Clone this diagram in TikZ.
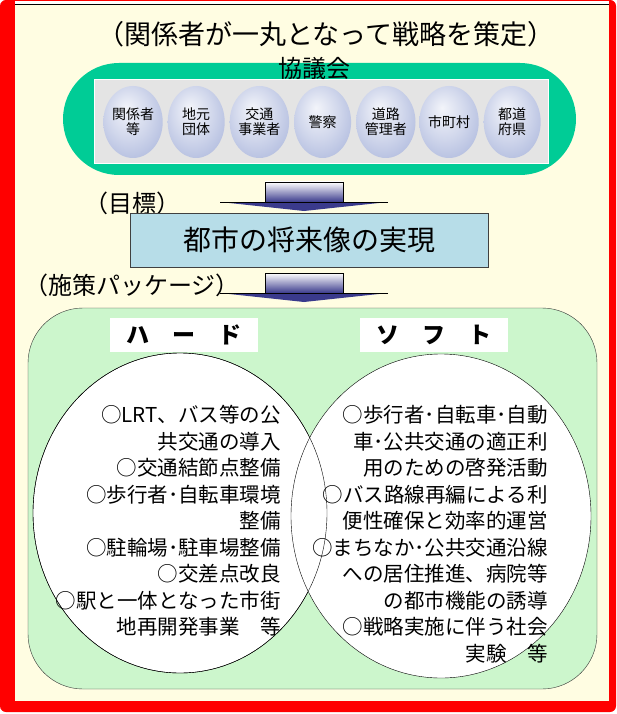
\documentclass[tikz,border=0pt]{standalone}
\usepackage{fontspec}
\setmainfont{Noto Sans CJK JP}
\usetikzlibrary{shapes.geometric, positioning}
\definecolor{framered}{RGB}{255,0,0}
\definecolor{cream}{RGB}{255,253,226}
\definecolor{councilgreen}{RGB}{0,204,150}
\definecolor{panelgrey}{RGB}{228,228,228}
\definecolor{memberblue}{RGB}{152,166,212}
\definecolor{goalblue}{RGB}{183,221,232}
\definecolor{pkggreen}{RGB}{204,246,204}
\definecolor{arrowblue}{RGB}{58,58,140}
\pgfdeclareradialshading{memberball}{\pgfpoint{-6bp}{10bp}}{
    color(0bp)=(memberblue!12); color(18bp)=(memberblue!45);
    color(40bp)=(memberblue!90); color(50bp)=(memberblue)}
\tikzset{
    member/.style={ellipse, minimum width=57pt, minimum height=72pt, inner sep=0pt,
        shading=memberball, align=center, font=\fontsize{14}{15}\selectfont},
    caption/.style={font=\fontsize{24}{24}\selectfont},
    sidetitle/.style={fill=white, minimum width=148pt, minimum height=34pt,
        font=\bfseries\fontsize{23}{23}\selectfont},
    sidelist/.style={anchor=east, align=right, inner sep=0pt,
        font=\fontsize{20.5}{26.5}\selectfont},
    bigarrow/.pic={
        \shade[top color=white, bottom color=arrowblue, draw=black, line width=0.6pt]
        (-39,0) rectangle (39,20);
        \fill[arrowblue] (-84,20) -- (84,20) -- (0,29) -- cycle;
        \draw[line width=0.8pt] (-84,20) -- (84,20);
    }
}

\begin{document}
\begin{tikzpicture}[x=1pt, y=-1pt]
    \useasboundingbox (0,0) rectangle (616,714);
    \fill[white] (0,0) rectangle (616,714);
    \fill[framered, rounded corners=6pt] (0,0) rectangle (616,712);
    \fill[white] (15,1.5) rectangle (609,4);
    \draw[line width=1.2pt] (15,4.6) -- (609,4.6);
    \fill[cream] (15,5.2) rectangle (609,701);

    \node (title) at (326,34) [font=\fontsize{27}{27}\selectfont] {（関係者が一丸となって戦略を策定）};

    \node (council) at (319.5,119) [fill=councilgreen, minimum width=513pt,
        minimum height=112pt, rounded corners=56pt] {};
    \node (panel) at (321,121) [fill=panelgrey, draw=white, minimum width=454pt,
        minimum height=84pt] {};
    \foreach \who [count=\i] in {{関係者\\等}, {地元\\団体}, {交通\\事業者}, 警察,
        {道路\\管理者}, 市町村, {都道\\府県}}
        \node (member\i) [member] at ({133+63.2*(\i-1)},122) {\who};
    \node (kyogikai) at (314,68) [font=\fontsize{24}{24}\selectfont] {協議会};

    \pic at (304,182) {bigarrow};
    \node (goallabel) at (132,203) [caption] {（目標）};
    \node (goal) at (309,240) [draw=darkgray, fill=goalblue, minimum width=358pt,
        minimum height=54pt, font=\fontsize{28}{28}\selectfont] {都市の将来像の実現};

    \pic at (304,273) {bigarrow};
    \node (pkglabel) at (132,285) [caption] {（施策パッケージ）};

    \node (package) at (312.5,498.5) [fill=pkggreen, draw=black!80, minimum width=569pt,
        minimum height=381pt, rounded corners=55pt] {};
    \node (hard) at (180,513) [ellipse, fill=white, draw, minimum width=294pt,
        minimum height=320pt] {};
    \node (soft) at (441,516) [ellipse, fill=white, draw, minimum width=300pt,
        minimum height=324pt] {};
    \draw (hard.center) ellipse [x radius=147pt, y radius=160pt];

    \node (hardtitle) at (184,335) [sidetitle] {ハ　ー　ド};
    \node (softtitle) at (434,335) [sidetitle] {ソ　フ　ト};

    \node (hardlist) at (281,521) [sidelist] {○LRT、バス等の公\\共交通の導入\\○交通結節点整備\\
        ○歩行者･自転車環境\\整備\\○駐輪場･駐車場整備\\○交差点改良\\
        ○駅と一体となった市街\\地再開発事業　等};
    \node (softlist) at (548,534) [sidelist] {○歩行者･自転車･自動\\車･公共交通の適正利\\
        用のための啓発活動\\○バス路線再編による利\\便性確保と効率的運営\\
        ○まちなか･公共交通沿線\\への居住推進、病院等\\の都市機能の誘導\\
        ○戦略実施に伴う社会\\実験　等};
\end{tikzpicture}
\end{document}
